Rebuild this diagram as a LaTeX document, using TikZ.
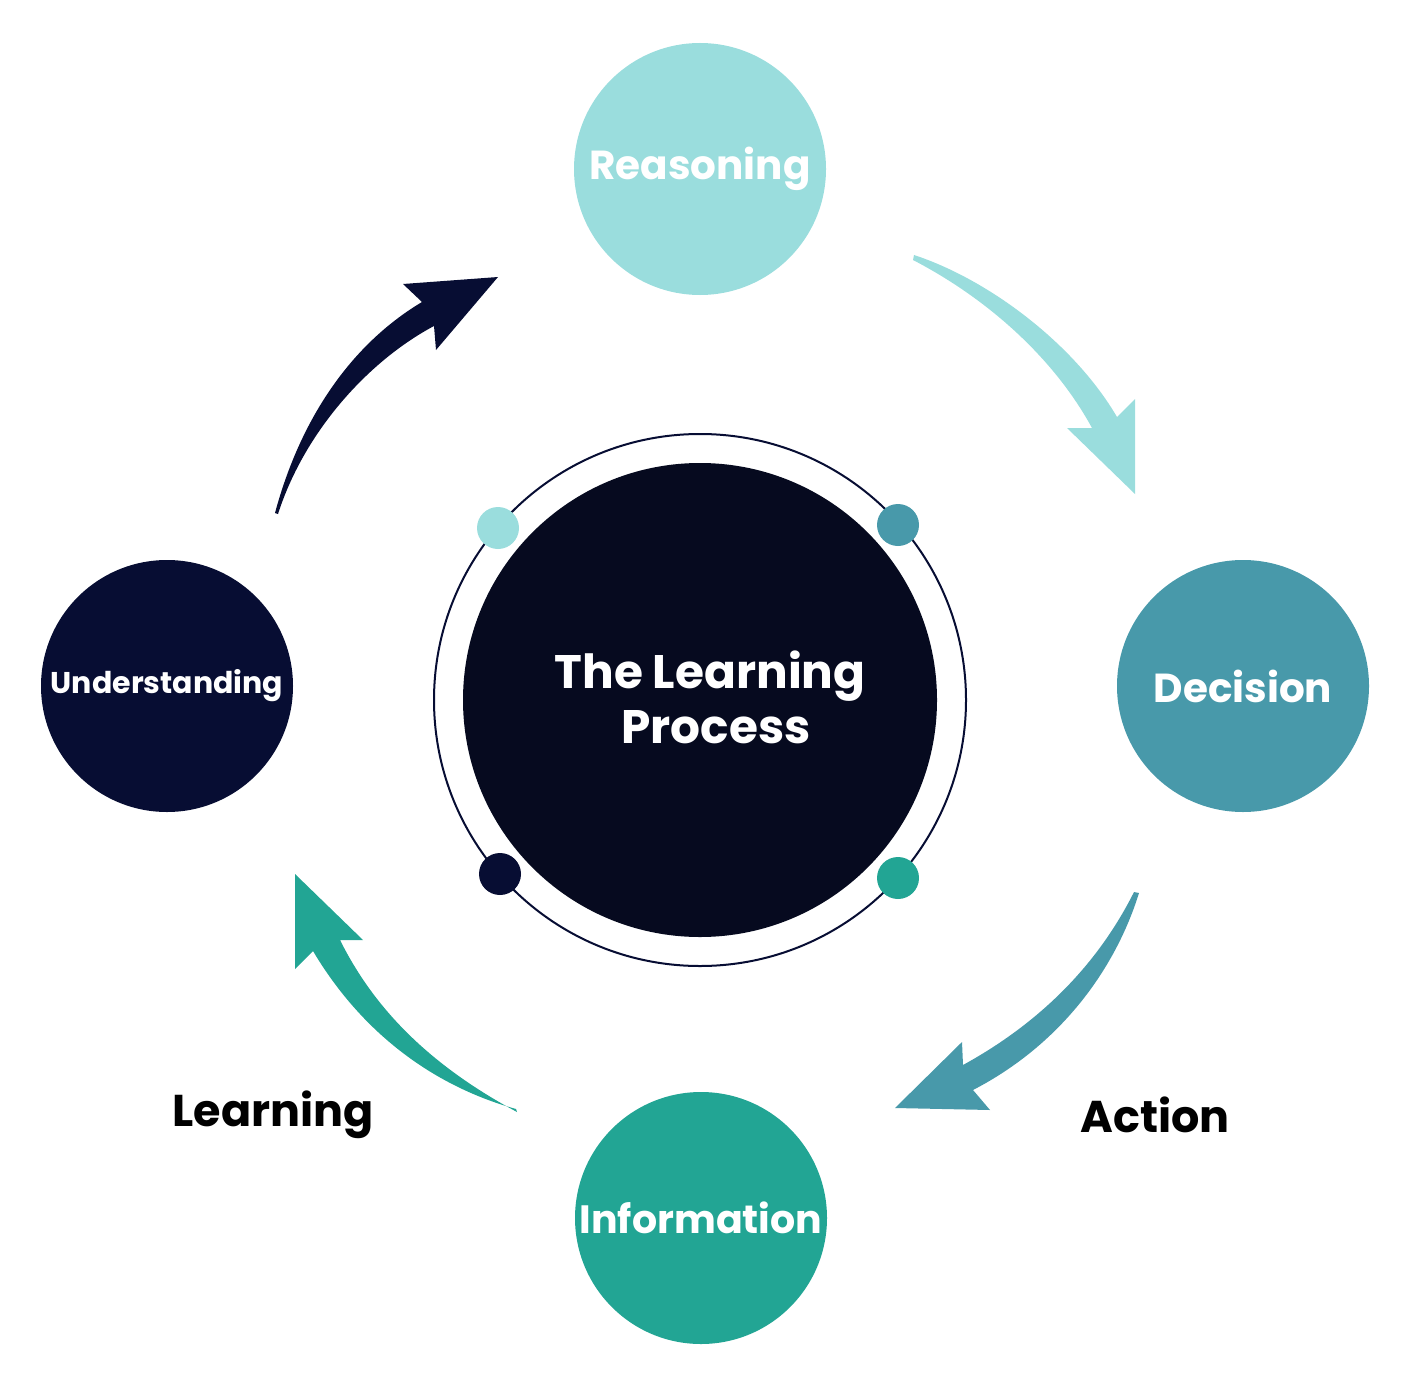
\documentclass[tikz,border=0pt]{standalone}
\usepackage{fontspec}
\setmainfont{Poppins}
\definecolor{cnavy}{HTML}{070D33}
\definecolor{ccore}{HTML}{060A1F}
\definecolor{ccyan}{HTML}{9ADDDD}
\definecolor{cblue}{HTML}{4899AA}
\definecolor{cteal}{HTML}{22A594}
\begin{document}
\begin{tikzpicture}[x=1pt,y=-1pt,
  stage/.style={circle,minimum size=252pt,inner sep=0pt,text=white,font=\fontsize{40.5}{46}\selectfont\bfseries},
  dot/.style={circle,minimum size=42pt,inner sep=0pt},
  lbl/.style={text=black,font=\fontsize{44.5}{50}\selectfont\bfseries}]
\useasboundingbox (0,0) rectangle (1410,1388);
% ring and core
\node[circle,draw=cnavy,line width=2pt,minimum size=532pt,inner sep=0pt] (ring) at (700,700) {};
\node[circle,fill=ccore,minimum size=474pt,inner sep=0pt] (core) at (700,700) {};
\node[text=white,align=center,font=\fontsize{47}{55}\selectfont\bfseries] (title) at (710,697) {The Learning\\\hspace*{12pt}Process};
% small dots
\node[dot,fill=ccyan] (d1) at (498,528) {};
\node[dot,fill=cblue] (d2) at (898,525) {};
\node[dot,fill=cnavy] (d3) at (500,874) {};
\node[dot,fill=cteal] (d4) at (898,878) {};
% stages
\node[stage,fill=ccyan] (reason) at (700,169) {Reasoning};
\node[stage,fill=cblue] (decision) at (1243,686) {Decision};
\node[stage,fill=cteal,font=\fontsize{39.5}{46}\selectfont\bfseries] (info) at (701,1218) {Information};
\node[stage,fill=cnavy,font=\fontsize{30}{34}\selectfont\bfseries] (under) at (167,686) {Understanding};
% labels
\node[lbl] (learning) at (273,1115) {Learning};
\node[lbl] (action) at (1155,1115) {Action};
% arrows (tapered)
\fill[cnavy] (275,513) .. controls (300,420) and (350,345) .. (422,302)
  -- (403,284) -- (498,277) -- (436,350) -- (434,326)
  .. controls (370,360) and (305,430) .. (278,514) -- cycle;
\fill[ccyan] (914,255) .. controls (990,280) and (1075,345) .. (1117,417)
  -- (1135,399) -- (1135,494) -- (1067,428) -- (1092,428)
  .. controls (1055,360) and (990,300) .. (913,260) -- cycle;
\fill[cblue] (1139,893) .. controls (1115,970) and (1060,1045) .. (973,1090)
  -- (990,1110) -- (895,1108) -- (962,1042) -- (963,1065)
  .. controls (1045,1020) and (1100,960) .. (1134,892) -- cycle;
\fill[cteal] (516,1109) .. controls (430,1085) and (360,1030) .. (313,951)
  -- (295,969) -- (295,874) -- (363,940) -- (340,940)
  .. controls (370,1000) and (420,1060) .. (517,1112) -- cycle;
\end{tikzpicture}
\end{document}
